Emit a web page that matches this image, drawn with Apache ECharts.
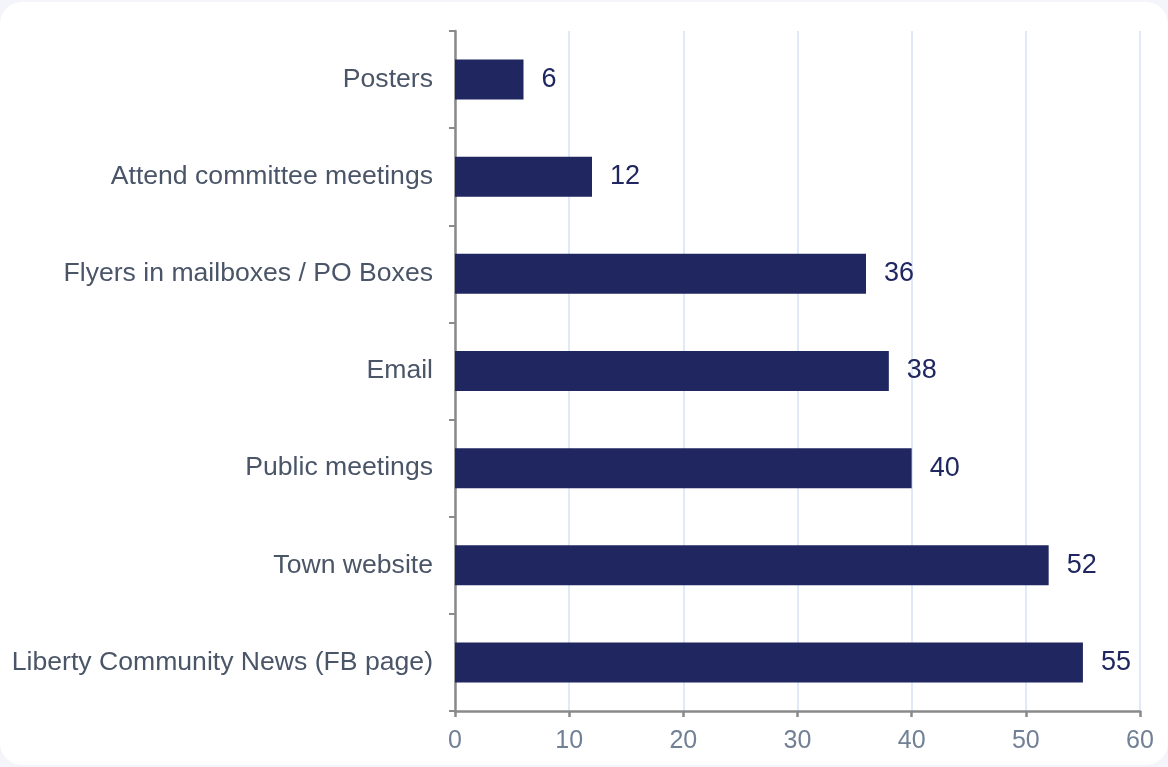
<!DOCTYPE html>
<html>
<head>
<meta charset="utf-8">
<script src="https://cdn.jsdelivr.net/npm/echarts@6/dist/echarts.min.js"></script>
<style>
  html, body { margin: 0; padding: 0; background: #f4f5fa; }
  #chart {
    width: 1168px; height: 763px; margin-top: 2px;
    background: #ffffff; border-radius: 22px; overflow: hidden;
  }
</style>
</head>
<body>
<div id="chart"></div>
<script>
'use strict';
// categories top to bottom
var categories = [
    'Posters',
    'Attend committee meetings',
    'Flyers in mailboxes / PO Boxes',
    'Email',
    'Public meetings',
    'Town website',
    'Liberty Community News (FB page)'
];
var counts = [6, 12, 36, 38, 40, 52, 55];
var xTicks = [0, 10, 20, 30, 40, 50, 60];

var myChart = echarts.init(document.getElementById('chart'));
var option = {
    animation: false,
    textStyle: { fontFamily: 'Liberation Sans, Arial, sans-serif' },
    grid: { left: 455, right: 28, top: 29, bottom: 54 },
    xAxis: {
        type: 'value',
        min: xTicks[0],
        max: xTicks[xTicks.length - 1],
        interval: 10,
        axisLine: { show: true, lineStyle: { color: '#8a8a8a', width: 2.5 } },
        axisTick: { show: true, length: 6, lineStyle: { color: '#8a8a8a', width: 2.5 } },
        axisLabel: { color: '#718096', fontSize: 25, margin: 18 },
        splitLine: { show: true, lineStyle: { color: '#d5e2f7', width: 1.5 } }
    },
    yAxis: {
        type: 'category',
        inverse: true,
        data: categories,
        axisLine: { show: true, lineStyle: { color: '#8a8a8a', width: 2.5 } },
        axisTick: { show: true, length: 6, lineStyle: { color: '#8a8a8a', width: 2 } },
        axisLabel: { color: '#4a5568', fontSize: 26.6, margin: 22 }
    },
    series: [{
        type: 'bar',
        data: counts,
        barWidth: 40,
        itemStyle: { color: '#1f2660' },
        label: {
            show: true,
            position: 'right',
            distance: 18,
            color: '#1f2660',
            fontSize: 27
        }
    }]
};
myChart.setOption(option);
</script>
</body>
</html>
